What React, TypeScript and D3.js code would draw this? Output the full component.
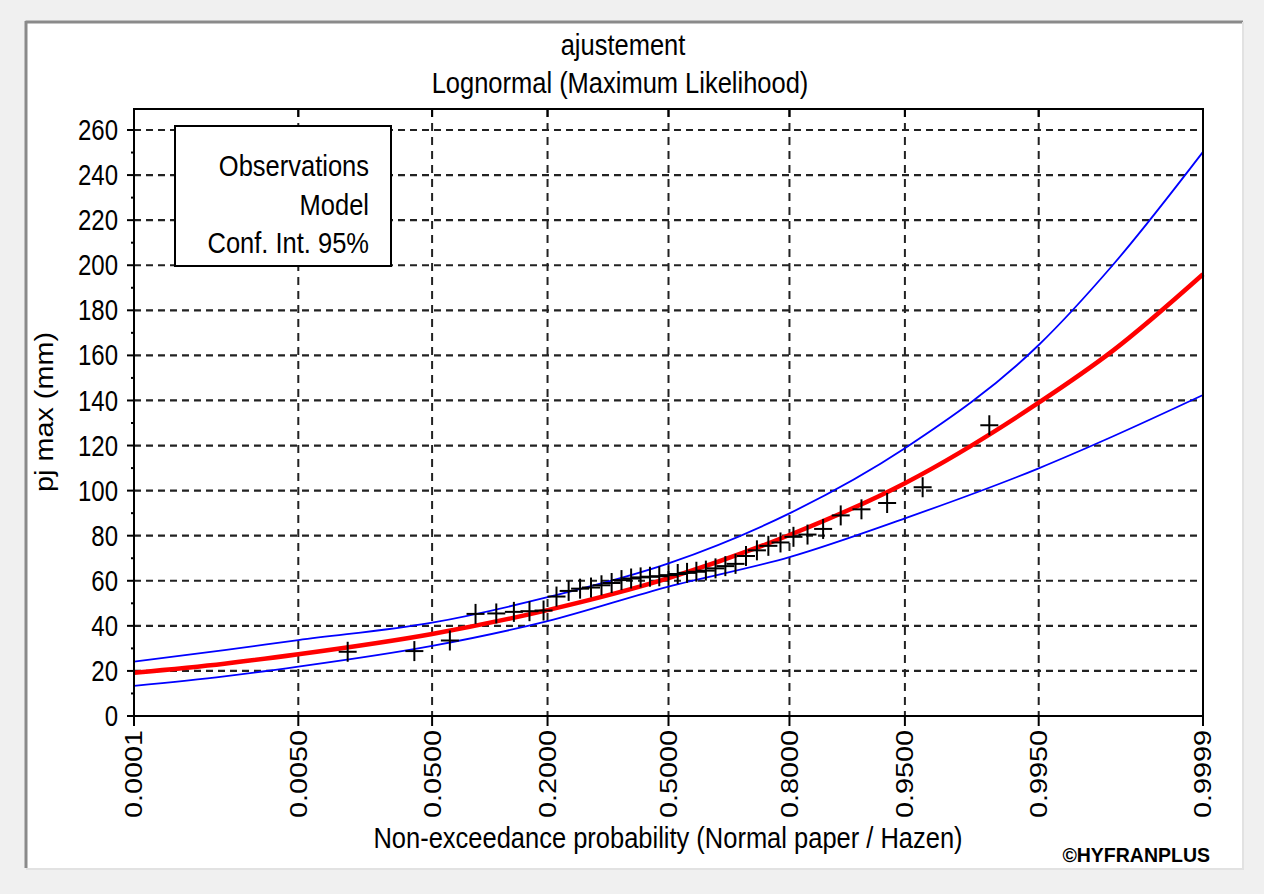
import { line, curveMonotoneX, scaleLinear } from 'd3';

// Values
const probTicks = [0.0001, 0.005, 0.05, 0.2, 0.5, 0.8, 0.95, 0.995, 0.9999];
const probTickLabels = ['0.0001', '0.0050', '0.0500', '0.2000', '0.5000', '0.8000', '0.9500', '0.9950', '0.9999'];
const valueTicks = [0, 20, 40, 60, 80, 100, 120, 140, 160, 180, 200, 220, 240, 260];
const minorTicks = [10, 30, 50, 70, 90, 110, 130, 150, 170, 190, 210, 230, 250];

const curveProbs = [0.0001, 0.001, 0.005, 0.05, 0.2, 0.5, 0.8, 0.95, 0.995, 0.999, 0.9999];
const modelValues = [19.2, 23.2, 27.4, 36.4, 47, 61.2, 80.3, 103.3, 139, 162, 196];
const upperValues = [24.1, 29.2, 33.7, 41.4, 52.7, 67.7, 89.9, 118.8, 164.6, 200, 250.3];
const lowerValues = [13.4, 17.6, 21.9, 31.1, 42.1, 57.4, 70.5, 87.7, 109.9, 124, 142.4];

const obsProbs = [
  0.0128, 0.0385, 0.0641, 0.0897, 0.1154, 0.141, 0.1667, 0.1923, 0.2179, 0.2436,
  0.2692, 0.2949, 0.3205, 0.3462, 0.3718, 0.3974, 0.4231, 0.4487, 0.4744, 0.5,
  0.5256, 0.5513, 0.5769, 0.6026, 0.6282, 0.6538, 0.6795, 0.7051, 0.7308, 0.7564,
  0.7821, 0.8077, 0.8333, 0.859, 0.8846, 0.9103, 0.9359, 0.9615, 0.9872,
];
const obsValues = [
  28.5, 28.8, 33.5, 45.3, 45.5, 46.2, 46.5, 46.8, 53.0, 55.5,
  56.5, 57.0, 58.0, 59.0, 60.3, 61.0, 61.5, 61.8, 62.0, 62.5,
  63.0, 63.5, 64.0, 64.5, 65.5, 66.5, 67.5, 71.0, 73.5, 75.5,
  77.0, 79.5, 80.5, 83.0, 89.0, 91.7, 94.5, 101.5, 129.0,
];

const legendLabels = ['Observations', 'Model', 'Conf. Int. 95%'];

const width = 1264;
const height = 894;
const plot = { left: 134, right: 1203, top: 109, bottom: 716 };
const font = '"Liberation Sans", Arial, sans-serif';

// inverse standard normal CDF (Acklam)
function qnorm(p: number) {
  const a = [-39.69683028665376, 220.9460984245205, -275.9285104469687, 138.357751867269, -30.66479806614716, 2.506628277459239];
  const b = [-54.47609879822406, 161.5858368580409, -155.6989798598866, 66.80131188771972, -13.28068155288572];
  const c = [-0.007784894002430293, -0.3223964580411365, -2.400758277161838, -2.549732539343734, 4.374664141464968, 2.938163982698783];
  const d = [0.007784695709041462, 0.3224671290700398, 2.445134137142996, 3.754408661907416];
  const pl = 0.02425;
  if (p < pl) {
    const q = Math.sqrt(-2 * Math.log(p));
    return (((((c[0] * q + c[1]) * q + c[2]) * q + c[3]) * q + c[4]) * q + c[5]) / ((((d[0] * q + d[1]) * q + d[2]) * q + d[3]) * q + 1);
  }
  if (p > 1 - pl) {
    const q = Math.sqrt(-2 * Math.log(1 - p));
    return -(((((c[0] * q + c[1]) * q + c[2]) * q + c[3]) * q + c[4]) * q + c[5]) / ((((d[0] * q + d[1]) * q + d[2]) * q + d[3]) * q + 1);
  }
  const q = p - 0.5;
  const r = q * q;
  return ((((((a[0] * r + a[1]) * r + a[2]) * r + a[3]) * r + a[4]) * r + a[5]) * q) / (((((b[0] * r + b[1]) * r + b[2]) * r + b[3]) * r + b[4]) * r + 1);
}

const zScale = scaleLinear().domain([qnorm(0.0001), qnorm(0.9999)]).range([plot.left, plot.right]);
const xScale = (p: number) => zScale(qnorm(p));
const yScale = scaleLinear().domain([0, 260]).range([plot.bottom, 130]);

type Pt = [number, number];
const pathGen = line<Pt>()
  .x(d => xScale(d[0]))
  .y(d => yScale(d[1]))
  .curve(curveMonotoneX);

const toPts = (vals: number[]): Pt[] => curveProbs.map((p, i) => [p, vals[i]]);

// the screenshot is stretched vertically, so text is too
function Label({ x, y, anchor = 'middle', rotate = false, size = 24, sy = 1.2, weight = 'normal', children }: {
  x: number; y: number; anchor?: string; rotate?: boolean; size?: number; sy?: number; weight?: string; children: string;
}) {
  return (
    <text
      transform={`translate(${x},${y}) scale(1,${sy})${rotate ? ' rotate(-90)' : ''}`}
      textAnchor={anchor}
      dy="0.35em"
      fontFamily={font}
      fontSize={size}
      fontWeight={weight}
      fill="#000"
    >
      {children}
    </text>
  );
}

export default function App() {
  const legend = { x: 175, y: 126, w: 216, h: 140 };

  return (
    <svg width={width} height={height} style={{ position: 'absolute', left: 0, top: 0, background: '#f0f0f0' }}>
      {/* panel */}
      <rect x={27} y={23} width={1216} height={845} fill="#fff" />
      <line x1={25.5} x2={1243} y1={22} y2={22} stroke="#8a8a8a" strokeWidth={3} />
      <line x1={26} x2={26} y1={21} y2={868} stroke="#8a8a8a" strokeWidth={3} />
      <line x1={1243} x2={1243} y1={22} y2={869} stroke="#e2e2e2" strokeWidth={2} />
      <line x1={26} x2={1244} y1={869} y2={869} stroke="#e2e2e2" strokeWidth={2} />

      <Label x={623} y={45} size={25.5} sy={1.13}>ajustement</Label>
      <Label x={620} y={83} size={25.5} sy={1.13}>Lognormal (Maximum Likelihood)</Label>

      {/* grid */}
      {valueTicks.filter(v => v > 0).map(v => (
        <line key={`h${v}`} x1={plot.left} x2={plot.right} y1={yScale(v)} y2={yScale(v)}
          stroke="#222" strokeWidth={2.2} strokeDasharray="7 5" />
      ))}
      {probTicks.slice(1, -1).map(p => (
        <line key={`v${p}`} x1={xScale(p)} x2={xScale(p)} y1={plot.top} y2={plot.bottom}
          stroke="#222" strokeWidth={2} strokeDasharray="8 6" />
      ))}

      {/* curves */}
      <path d={pathGen(toPts(upperValues)) ?? ''} fill="none" stroke="#0000ff" strokeWidth={1.8} />
      <path d={pathGen(toPts(lowerValues)) ?? ''} fill="none" stroke="#0000ff" strokeWidth={1.8} />
      <path d={pathGen(toPts(modelValues)) ?? ''} fill="none" stroke="#ff0000" strokeWidth={4.5} />

      {/* observations */}
      {obsProbs.map((p, i) => {
        const cx = xScale(p);
        const cy = yScale(obsValues[i]);
        return (
          <g key={i} stroke="#000" strokeWidth={2}>
            <line x1={cx - 9} x2={cx + 9} y1={cy} y2={cy} />
            <line x1={cx} x2={cx} y1={cy - 10} y2={cy + 10} />
          </g>
        );
      })}

      {/* frame */}
      <rect x={plot.left} y={plot.top} width={plot.right - plot.left} height={plot.bottom - plot.top}
        fill="none" stroke="#000" strokeWidth={2} />

      {/* y axis ticks */}
      {valueTicks.map(v => (
        <g key={`yt${v}`}>
          <line x1={plot.left - 7} x2={plot.left} y1={yScale(v)} y2={yScale(v)} stroke="#000" strokeWidth={2} />
          <Label x={118} y={yScale(v)} anchor="end">{String(v)}</Label>
        </g>
      ))}
      {minorTicks.map(v => (
        <line key={`ym${v}`} x1={plot.left - 3} x2={plot.left} y1={yScale(v)} y2={yScale(v)} stroke="#000" strokeWidth={2} />
      ))}

      {/* x axis ticks */}
      {probTicks.map((p, i) => (
        <g key={`xt${p}`}>
          <line x1={xScale(p)} x2={xScale(p)} y1={plot.bottom} y2={plot.bottom + 10} stroke="#000" strokeWidth={2} />
          <line x1={xScale(p)} x2={xScale(p)} y1={plot.top} y2={plot.top + 8} stroke="#000" strokeWidth={2} />
          <Label x={xScale(p)} y={730} anchor="end" rotate>{probTickLabels[i]}</Label>
        </g>
      ))}

      {/* legend */}
      <rect x={legend.x} y={legend.y} width={legend.w} height={legend.h} fill="#fff" stroke="#000" strokeWidth={2} />
      {legendLabels.map((t, i) => (
        <Label key={t} x={369} y={166 + i * 38.5} anchor="end" size={25.5} sy={1.13}>{t}</Label>
      ))}

      <Label x={668} y={838} size={25.5} sy={1.13}>Non-exceedance probability (Normal paper / Hazen)</Label>
      <Label x={44} y={412} rotate size={25.5} sy={1.13}>pj max (mm)</Label>
      <Label x={1210} y={855} anchor="end" size={19.5} sy={1.0} weight="bold">©HYFRANPLUS</Label>
    </svg>
  );
}
